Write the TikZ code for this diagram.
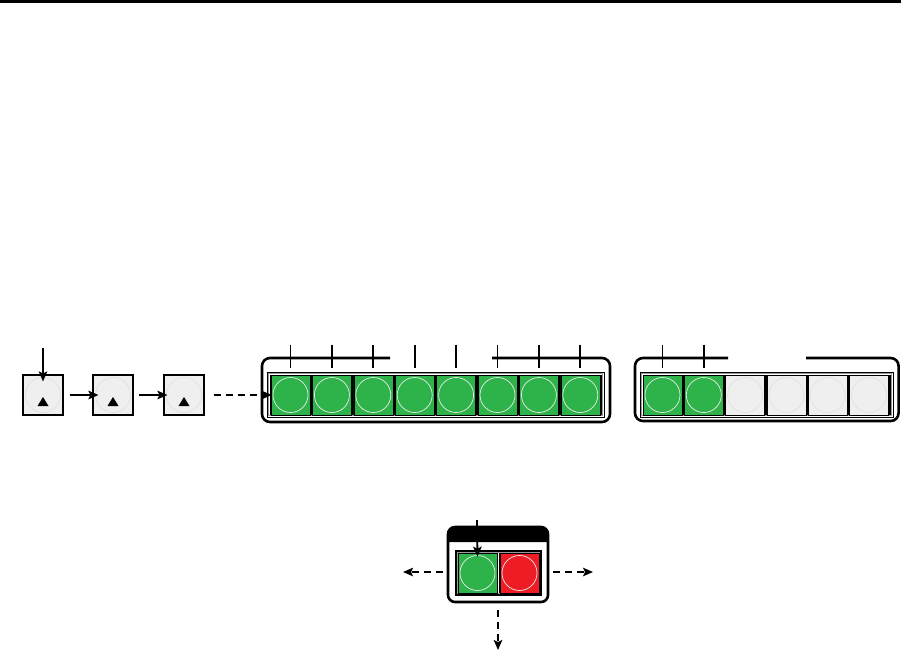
\documentclass[tikz,border=0pt]{standalone}
\usetikzlibrary{arrows.meta,calc}
\definecolor{btngreen}{HTML}{2DB34A}
\definecolor{btnred}{HTML}{EE1D25}
\definecolor{btngray}{HTML}{EFEFEF}
\definecolor{framegray}{HTML}{9A9A9A}
\pgfdeclareradialshading{gshade}{\pgfpointorigin}{color(0bp)=(btngreen); color(46bp)=(btngreen); color(72bp)=(btngreen!55!white)}
\pgfdeclareradialshading{rshade}{\pgfpointorigin}{color(0bp)=(btnred); color(46bp)=(btnred); color(72bp)=(btnred!55!white)}
\begin{document}
\begin{tikzpicture}[x=1pt,y=-1pt,
  btn/.style={minimum width=39pt, minimum height=40pt, inner sep=0pt, draw=black, line width=0.6pt,
    path picture={\draw[white!85!gray, line width=0.7pt] (path picture bounding box.center) circle (17.5pt);}},
  greenbtn/.style={btn, shade, shading=gshade},
  redbtn/.style={btn, shade, shading=rshade},
  graybtn/.style={btn, fill=btngray, path picture={\draw[gray!25, line width=0.6pt] (path picture bounding box.center) circle (17.5pt);}},
  stepkey/.style={minimum size=40pt, inner sep=0pt, draw=black, line width=1.1pt, fill=btngray,
    path picture={\draw[gray!25, line width=0.6pt] (path picture bounding box.center) circle (17.5pt);
      \fill[black] ([shift={(-5.5pt,-11pt)}]path picture bounding box.center) -- ([shift={(5.5pt,-11pt)}]path picture bounding box.center) -- ([shift={(0pt,-2pt)}]path picture bounding box.center) -- cycle;}},
  arr/.style={line width=1.8pt, -{Stealth[length=10pt,width=8.5pt,inset=2pt]}},
  darr/.style={arr, dash pattern=on 7pt off 5pt},
  frame/.style={line width=2.6pt, rounded corners=8pt},
  tick/.style={line width=1.8pt}
]
\useasboundingbox (0,0) rectangle (901,654);

% top rule
\draw[line width=3pt] (0,1.5) -- (901,1.5);

% ---------- left step keys ----------
\node[stepkey] (k1) at (43,395) {};
\node[stepkey] (k2) at (113,395) {};
\node[stepkey] (k3) at (184,395) {};
\coordinate (kin) at (43,348);
\draw[arr] (kin) -- ([yshift=-7pt]k1.north);
\draw[arr] ([xshift=6pt]k1.east) -- ([xshift=6pt]k2.west);
\draw[arr] ([xshift=5pt]k2.east) -- ([xshift=4pt]k3.west);

% ---------- middle panel ----------
\draw[frame] (390,358) -| (262,422) -| (610,358) -- (492,358);
\draw[line width=1pt] (267,372) rectangle (604,417);
\draw[framegray, line width=0.8pt] (268.8,373.8) rectangle (602.2,415.2);
\fill[black] (269.5,374.5) rectangle (601.5,414.5);
\foreach \i in {1,...,8} {
  \node[greenbtn] (m\i) at ({249.1+41.4*\i},395) {};
}
\draw[line width=2pt] ($(m3.east)!0.5!(m4.west)$) ++(0,-20) -- ++(0,40);
\draw[line width=2pt] ($(m6.east)!0.5!(m7.west)$) ++(0,-20) -- ++(0,40);
\foreach \i in {1,...,8} {
  \draw[tick] ([yshift=30pt]m\i.north) -- ([yshift=7pt]m\i.north);
}
\draw[darr] ([xshift=9pt]k3.east) -- ([xshift=1pt]m1.west);

% ---------- right panel ----------
\draw[frame] (728,358) -| (635,421) -| (898.6,358) -- (806,358);
\draw[line width=1pt] (640,372) rectangle (893,417);
\draw[framegray, line width=0.8pt] (641.8,373.8) rectangle (891.2,415.2);
\fill[black] (642.5,374.5) rectangle (890.5,414.5);
\node[greenbtn] (r1) at (662.5,395) {};
\node[greenbtn] (r2) at (703.8,395) {};
\node[graybtn] (r3) at (745.1,395) {};
\node[graybtn] (r4) at (786.4,395) {};
\node[graybtn] (r5) at (827.7,395) {};
\node[graybtn] (r6) at (869.0,395) {};
\draw[tick] ([yshift=30pt]r1.north) -- ([yshift=7pt]r1.north);
\draw[tick] ([yshift=30pt]r2.north) -- ([yshift=7pt]r2.north);

% ---------- bottom panel ----------
\fill[black] (448,542) -- (448,534) [rounded corners=7pt] |- (548,527) [sharp corners] -- (548,542) -- cycle;
\draw[line width=2.6pt, rounded corners=7pt] (448,527) rectangle (548,602);
\draw[line width=1.2pt] (456,551) rectangle (541,595);
\draw[framegray, line width=0.7pt] (457.4,552.4) rectangle (539.6,593.6);
\fill[black] (458,553) rectangle (539,593);
\node[greenbtn] (bg) at (477.5,573) {};
\node[redbtn] (br) at (519.5,573) {};
\draw[white, line width=0.8pt] ($(bg.east)!0.5!(br.west)$) ++(0,-20) -- ++(0,40);
\coordinate (bin) at (477,520);
\draw[arr] (bin) -- ([yshift=-4pt]bg.north);
\coordinate (bpanel) at (498,602);
\coordinate (bl) at (403,572);
\coordinate (brr) at (593,572);
\coordinate (bd) at (498,650);
\draw[darr] (443,572) -- (bl);
\draw[darr] (553,572) -- (brr);
\draw[darr] ([yshift=-8pt]bpanel) -- (bd);
\end{tikzpicture}
\end{document}
